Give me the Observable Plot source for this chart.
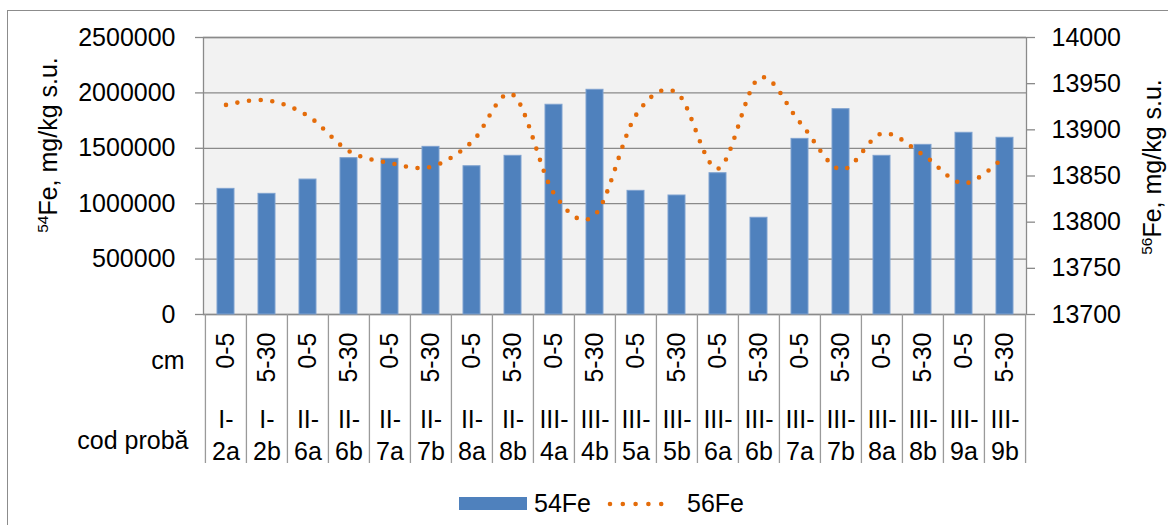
<!DOCTYPE html>
<html>
<head>
<meta charset="utf-8">
<script src="https://cdn.jsdelivr.net/npm/d3@7"></script>
<script src="https://cdn.jsdelivr.net/npm/@observablehq/plot@0.6"></script>
<style>
  html, body { margin: 0; padding: 0; background: #fff; }
  #wrap { position: relative; width: 1168px; height: 525px; overflow: hidden; font-family: "Liberation Sans", Arial, sans-serif; color: #000; }
  #wrap svg.layer { position: absolute; left: 0; top: 0; }
  .border { position: absolute; left: 7px; top: 10px; width: 1300px; height: 600px; border-left: 1.5px solid #8c8c8c; border-top: 1.5px solid #8c8c8c; }
  .ytitle { position: absolute; white-space: nowrap; font-size: 25px; transform: translate(-50%, -50%) rotate(-90deg); }
  .ytitle sup { font-size: 0.62em; vertical-align: 0.55em; line-height: 0; }
  .legend { position: absolute; font-size: 25px; top: 489px; display: flex; align-items: center; }
</style>
</head>
<body>
<div id="wrap">
  <div class="border"></div>
</div>
<script>
// ---- data ----
const codes = ["I-2a","I-2b","II-6a","II-6b","II-7a","II-7b","II-8a","II-8b","III-4a","III-4b",
               "III-5a","III-5b","III-6a","III-6b","III-7a","III-7b","III-8a","III-8b","III-9a","III-9b"];
const depths = ["0-5","5-30","0-5","5-30","0-5","5-30","0-5","5-30","0-5","5-30",
                "0-5","5-30","0-5","5-30","0-5","5-30","0-5","5-30","0-5","5-30"];
const fe54 = [1134000,1089000,1218000,1411000,1405000,1513000,1338000,1432000,1893000,2028000,
              1116000,1074000,1275000,873000,1585000,1853000,1432000,1531000,1640000,1595000];
const fe56 = [13927,13932,13915,13877,13864,13860,13887,13938,13831,13808,
              13916,13940,13858,13956,13908,13857,13896,13873,13842,13872];
const leftTicks = [0,500000,1000000,1500000,2000000,2500000];
const rightTicks = [13700,13750,13800,13850,13900,13950,14000];
const rowLabels = ["cm","cod probă"];
const seriesNames = ["54Fe","56Fe"];

const data = codes.map((c, i) => ({code: c, depth: depths[i], fe54: fe54[i], fe56: fe56[i]}));

// ---- layout ----
const W = 1168, H = 525;
const mL = 203, mR = W - 1026, mT = 37, mB = H - 314;
const step = (W - mL - mR) / codes.length;
const pad = 0.595;
const xScale = {type: "band", domain: codes, paddingInner: pad, paddingOuter: pad / 2};
const font = {fontSize: "25px", fontFamily: "'Liberation Sans', Arial, sans-serif", color: "#000", background: "transparent", overflow: "visible"};
const grey = "#8a8a8a";
const wrap = document.getElementById("wrap");

// Plot A: bars, left axis
const plotA = Plot.plot({
  width: W, height: H, marginLeft: mL, marginRight: mR, marginTop: mT, marginBottom: mB,
  style: font,
  x: {...xScale, axis: null},
  y: {domain: [0, 2500000], axis: null},
  marks: [
    Plot.frame({fill: "#f2f2f2", stroke: null}),
    Plot.gridY(leftTicks, {stroke: grey, strokeOpacity: 1, strokeWidth: 1.3}),
    Plot.frame({stroke: grey, strokeWidth: 1.3}),
    Plot.barY(data, {x: "code", y: "fe54", fill: "#4f81bd", stroke: "#7ea1cf", strokeWidth: 1}),
    Plot.axisY(leftTicks, {anchor: "left", tickSize: 8, tickPadding: 20, stroke: grey, strokeWidth: 1.3, tickFormat: d => String(d), label: null, fontSize: 25})
  ]
});
plotA.classList.add("layer");
wrap.appendChild(plotA);

// Plot B: dotted smooth line, right axis
const plotB = Plot.plot({
  width: W, height: H, marginLeft: mL, marginRight: mR, marginTop: mT, marginBottom: mB,
  style: font,
  x: {...xScale, axis: null},
  y: {domain: [13700, 14000], axis: null},
  marks: [
    Plot.line(data, {x: "code", y: "fe56", curve: "cardinal", stroke: "#e46c0a", strokeWidth: 4.6,
                     strokeDasharray: "0 11.7", strokeLinecap: "round"}),
    Plot.axisY(rightTicks, {anchor: "right", tickSize: 8, tickPadding: 17, stroke: grey, strokeWidth: 1.3, tickFormat: d => String(d), label: null, fontSize: 25})
  ]
});
plotB.classList.add("layer");
wrap.appendChild(plotB);

// Plot C: category table under the axis
const tTop = 314, tBottom = 463;
const plotC = Plot.plot({
  width: W, height: H, marginLeft: mL, marginRight: mR, marginTop: tTop, marginBottom: H - tBottom,
  style: font,
  x: {...xScale, axis: null},
  marks: [
    Plot.ruleX(codes, {x: d => d, dx: -step / 2, stroke: "#9a9a9a", strokeWidth: 1.3}),
    Plot.ruleX([codes[codes.length - 1]], {x: d => d, dx: step / 2, stroke: "#9a9a9a", strokeWidth: 1.3}),
    Plot.text(data, {x: "code", text: "depth", frameAnchor: "top", lineAnchor: "middle", dy: 18, rotate: -90, textAnchor: "end", fontSize: 25}),
    Plot.text(data, {x: "code", text: d => d.code.replace("-", "-\n"), frameAnchor: "top", dy: 119, lineAnchor: "middle", lineHeight: 1.28, fontSize: 25}),
    Plot.text([rowLabels[0]], {text: d => d, frameAnchor: "top-left", lineAnchor: "middle", dx: -19, dy: 46, textAnchor: "end", fontSize: 25}),
    Plot.text([rowLabels[1]], {text: d => d, frameAnchor: "top-left", lineAnchor: "middle", dx: -15, dy: 126, textAnchor: "end", fontSize: 25})
  ]
});
plotC.classList.add("layer");
wrap.appendChild(plotC);

// Axis titles
const t1 = document.createElement("div");
t1.className = "ytitle"; t1.style.left = "48px"; t1.style.top = "145px";
t1.innerHTML = "<sup>54</sup>Fe, mg/kg s.u.";
wrap.appendChild(t1);
const t2 = document.createElement("div");
t2.className = "ytitle"; t2.style.left = "1152px"; t2.style.top = "167px";
t2.innerHTML = "<sup>56</sup>Fe, mg/kg s.u.";
wrap.appendChild(t2);

// Legend
const lg1 = document.createElement("div");
lg1.className = "legend"; lg1.style.left = "459px";
lg1.innerHTML = `<span style="display:inline-block;width:68px;height:13px;background:#4f81bd;margin-right:7px"></span><span>${seriesNames[0]}</span>`;
wrap.appendChild(lg1);
const lg2 = document.createElement("div");
lg2.className = "legend"; lg2.style.left = "606px";
lg2.innerHTML = `<svg width="72" height="14" style="margin-right:9px"><line x1="4" y1="7" x2="68" y2="7" stroke="#e46c0a" stroke-width="4.6" stroke-linecap="round" stroke-dasharray="0 12.8"/></svg><span>${seriesNames[1]}</span>`;
wrap.appendChild(lg2);
</script>
</body>
</html>
